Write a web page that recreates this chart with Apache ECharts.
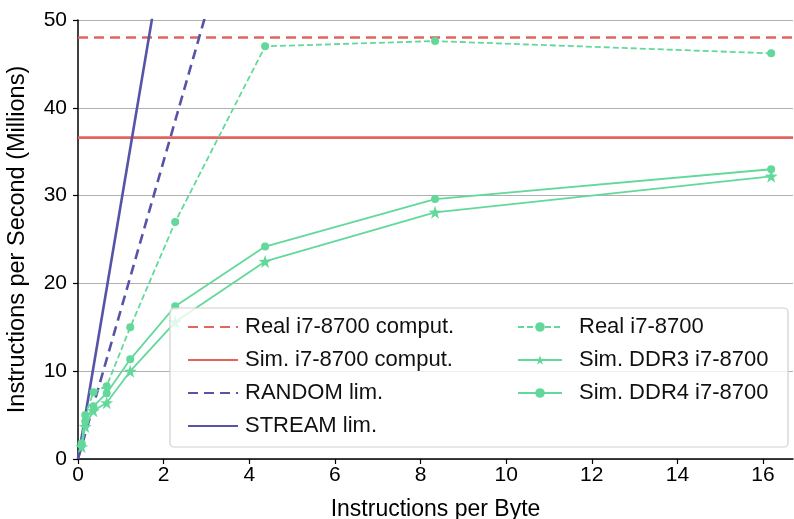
<!DOCTYPE html>
<html>
<head>
<meta charset="utf-8">
<script src="https://cdn.jsdelivr.net/npm/echarts@6/dist/echarts.min.js"></script>
<style>
  html, body { margin: 0; padding: 0; background: #fff; }
  #chart { width: 794px; height: 519px; }
</style>
</head>
<body>
<div id="chart"></div>
<script>
// instructions per byte for the measured / simulated runs
const ipb = [0.085, 0.17, 0.36, 0.67, 1.22, 2.27, 4.37, 8.34, 16.19]
const realI7 = [1.6, 5.0, 7.6, 8.3, 15.0, 27.0, 47.0, 47.6, 46.2]
const simDDR3 = [1.4, 3.7, 5.5, 6.4, 10.0, 15.6, 22.5, 28.1, 32.2]
const simDDR4 = [1.8, 4.3, 6.0, 7.5, 11.35, 17.4, 24.2, 29.6, 33.0]

// roofline limits
const realComput = [[0, 48.0], [16.7, 48.0]]
const simComput = [[0, 36.6], [16.7, 36.6]]
const randomLim = [[0, 0], [3.2, 54.3]]
const streamLim = [[0, 0], [1.9, 55.1]]

const xTicks = [0, 2, 4, 6, 8, 10, 12, 14, 16]

const RED = '#e2645c'
const PURPLE = '#5753a6'
const GREEN = '#62d99b'
const FONT = 'Liberation Sans'

const pair = (xs, ys) => xs.map((x, i) => [x, ys[i]])
const STAR = 'path://M50,0 L61.8,35.4 L100,36.3 L69.1,58.8 L80.9,95.1 L50,72.7 L19.1,95.1 L30.9,58.8 L0,36.3 L38.2,35.4 Z'
const noSymbol = name => ({ name, itemStyle: { opacity: 0 } })

const chart = echarts.init(document.getElementById('chart'))
chart.setOption({
  animation: false,
  textStyle: { fontFamily: FONT },
  grid: { left: 78, right: 1, top: 20, bottom: 60, containLabel: false, outerBoundsMode: 'none' },
  xAxis: {
    type: 'value', min: 0, max: 16.7,
    name: 'Instructions per Byte', nameLocation: 'middle', nameGap: 39,
    nameTextStyle: { fontSize: 23, color: '#000', fontFamily: FONT },
    axisLine: { lineStyle: { color: '#000', width: 1.5 } },
    axisTick: { customValues: xTicks, length: 5, lineStyle: { color: '#000', width: 1.2 } },
    axisLabel: { customValues: xTicks, fontSize: 21, color: '#000', margin: 6 },
    splitLine: { show: false }
  },
  yAxis: {
    type: 'value', min: 0, max: 50, interval: 10,
    name: 'Instructions per Second (Millions)', nameLocation: 'middle', nameGap: 48,
    nameTextStyle: { fontSize: 23.5, color: '#000', fontFamily: FONT },
    axisLine: { show: true, lineStyle: { color: '#000', width: 1.5 } },
    axisTick: { show: true, length: 5, lineStyle: { color: '#000', width: 1.2 } },
    axisLabel: { fontSize: 21, color: '#000', margin: 11 },
    splitLine: { lineStyle: { color: '#b0b0b0', width: 1.2 } }
  },
  legend: [
    {
      left: 182, top: 310, orient: 'vertical', itemGap: 9,
      itemWidth: 50, itemHeight: 24, z: 20,
      textStyle: { fontSize: 22, color: '#111', lineHeight: 24, padding: [0, 0, 0, 2] },
      data: ['Real i7-8700 comput.', 'Sim. i7-8700 comput.', 'RANDOM lim.', 'STREAM lim.'].map(noSymbol)
    },
    {
      left: 512, top: 310, orient: 'vertical', itemGap: 9,
      itemWidth: 44, itemHeight: 12, z: 20,
      textStyle: { fontSize: 22, color: '#111', lineHeight: 24, padding: [0, 0, 0, 12] },
      data: ['Real i7-8700', 'Sim. DDR3 i7-8700', 'Sim. DDR4 i7-8700']
    }
  ],
  graphic: [{
    type: 'rect', z: 10,
    shape: { x: 170, y: 308, width: 618, height: 139, r: 4 },
    style: { fill: 'rgba(255,255,255,0.8)', stroke: '#d0d0d0', lineWidth: 1.2 }
  }],
  series: [
    {
      name: 'Real i7-8700 comput.', type: 'line', data: realComput, symbol: 'none',
      lineStyle: { color: RED, width: 2.6, type: [10, 6] }, itemStyle: { color: RED }, z: 3
    },
    {
      name: 'Sim. i7-8700 comput.', type: 'line', data: simComput, symbol: 'none',
      lineStyle: { color: RED, width: 2.6 }, itemStyle: { color: RED }, z: 3
    },
    {
      name: 'RANDOM lim.', type: 'line', data: randomLim, symbol: 'none',
      lineStyle: { color: PURPLE, width: 2.6, type: [10, 6] }, itemStyle: { color: PURPLE }, z: 3
    },
    {
      name: 'STREAM lim.', type: 'line', data: streamLim, symbol: 'none',
      lineStyle: { color: PURPLE, width: 2.6 }, itemStyle: { color: PURPLE }, z: 3
    },
    {
      name: 'Real i7-8700', type: 'line', data: pair(ipb, realI7),
      symbol: 'circle', symbolSize: 8, showAllSymbol: true,
      lineStyle: { color: GREEN, width: 1.8, type: [6, 3] }, itemStyle: { color: GREEN }, z: 4
    },
    {
      name: 'Sim. DDR3 i7-8700', type: 'line', data: pair(ipb, simDDR3),
      symbol: STAR, symbolSize: 13, showAllSymbol: true,
      lineStyle: { color: GREEN, width: 1.8 }, itemStyle: { color: GREEN }, z: 4
    },
    {
      name: 'Sim. DDR4 i7-8700', type: 'line', data: pair(ipb, simDDR4),
      symbol: 'circle', symbolSize: 8, showAllSymbol: true,
      lineStyle: { color: GREEN, width: 1.8 }, itemStyle: { color: GREEN }, z: 4
    }
  ]
})
</script>
</body>
</html>
